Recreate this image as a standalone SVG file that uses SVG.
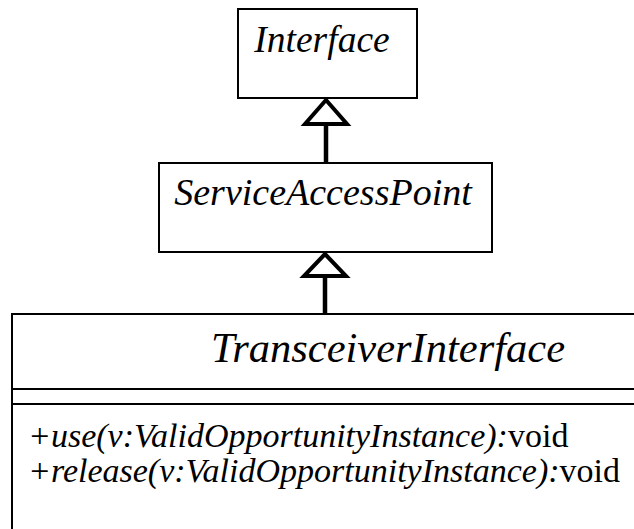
<svg xmlns="http://www.w3.org/2000/svg" width="634" height="529" viewBox="0 0 634 529">
<style>
.box{fill:#fff;stroke:#000;stroke-width:2}
.t{font-family:'Liberation Serif','Times New Roman',serif;font-style:italic;fill:#000}
.m{font-family:'Liberation Serif','Times New Roman',serif;font-size:34px;fill:#000}
.stem{stroke:#000;stroke-width:4.5;fill:none}
.head{fill:#fff;stroke:#000;stroke-width:4;stroke-linejoin:miter}
</style>
<rect width="634" height="529" fill="#fff"/>
<g id="Interface">
<rect class="box" x="238" y="9" width="179" height="89"/>
<text class="t" x="322" y="52" font-size="37.5" text-anchor="middle">Interface</text>
</g>
<g id="ServiceAccessPoint">
<rect class="box" x="159" y="163" width="333" height="89"/>
<text class="t" x="323" y="205" font-size="38" text-anchor="middle">ServiceAccessPoint</text>
</g>
<g id="TransceiverInterface">
<rect class="box" x="12" y="314" width="640" height="240"/>
<line x1="12" y1="389" x2="634" y2="389" stroke="#000" stroke-width="2"/>
<line x1="12" y1="404" x2="634" y2="404" stroke="#000" stroke-width="2"/>
<text class="t" x="388" y="362" font-size="42.5" text-anchor="middle">TransceiverInterface</text>
<text class="m" x="28" y="447"><tspan font-style="italic">+use(v:ValidOpportunityInstance):</tspan>void</text>
<text class="m" x="28" y="482"><tspan font-style="italic">+release(v:ValidOpportunityInstance):</tspan>void</text>
</g>
<g id="connectors">
<line class="stem" x1="326" y1="124" x2="326" y2="163"/>
<polygon class="head" points="326,100 305,124 347,124"/>
<line class="stem" x1="325" y1="276" x2="325" y2="314"/>
<polygon class="head" points="325,254 304,276 346,276"/>
</g>
</svg>
